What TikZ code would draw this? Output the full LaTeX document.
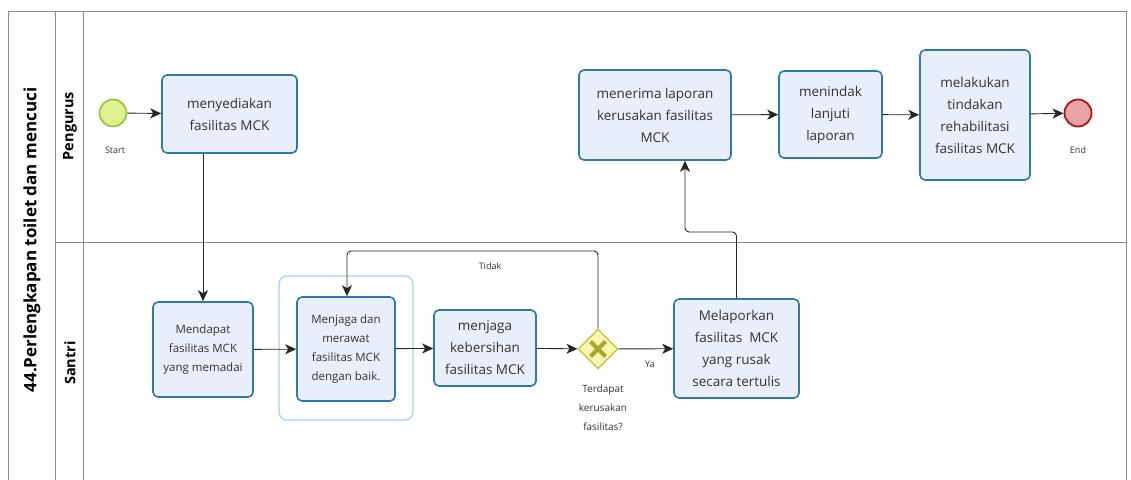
\documentclass[tikz,border=0pt]{standalone}
\usepackage{fontspec}
\setmainfont{Open Sans}
\usetikzlibrary{arrows.meta,shapes.geometric,calc}
\definecolor{boxfill}{HTML}{E9EEFB}
\definecolor{boxline}{HTML}{2B7BA6}
\definecolor{txt}{HTML}{333333}
\definecolor{startfill}{HTML}{DFF08E}
\definecolor{startline}{HTML}{8CC43E}
\definecolor{endfill}{HTML}{E9A3A5}
\definecolor{endline}{HTML}{A5161E}
\definecolor{gwfill}{HTML}{F6F6B4}
\definecolor{gwline}{HTML}{C9C63E}
\definecolor{gwmark}{HTML}{A9A62A}
\definecolor{grpline}{HTML}{A9D2E2}
\definecolor{laneline}{HTML}{8A8A8A}
\begin{document}
\begin{tikzpicture}[x=1pt,y=-1pt,
  task/.style={draw=boxline,fill=boxfill,line width=1.6pt,rounded corners=5pt,
    text=txt,font=\fontsize{13.5}{22}\selectfont,align=center,inner sep=2pt},
  flow/.style={draw=black!85,line width=0.9pt,-{Stealth[length=11pt,width=10pt,inset=3pt]}},
  small/.style={font=\fontsize{9}{11}\selectfont,text=txt},
  lane/.style={draw=laneline,line width=0.9pt}]
\useasboundingbox (0,0) rectangle (1131,479);
% pool
\draw[lane] (8,485) -- (8,11) -- (1126,11) -- (1126,485);
\draw[lane] (55,11) -- (55,485);
\draw[lane] (83,11) -- (83,485);
\draw[lane] (55,242) -- (1126,242);
\node[rotate=90,font=\bfseries\fontsize{17}{20}\selectfont] (title) at (32,240) {44.Perlengkapan toilet dan mencuci};
\node[rotate=90,font=\bfseries\fontsize{14.5}{16}\selectfont] (l1) at (70,126) {Pengurus};
\node[rotate=90,font=\bfseries\fontsize{14.5}{16}\selectfont] (l2) at (70,363) {Santri};
% group
\node[draw=grpline,line width=1.2pt,rounded corners=8pt,minimum width=134pt,minimum height=144pt] (grp) at (346,348) {};
% events
\node[circle,draw=startline,fill=startfill,line width=1.6pt,minimum size=27pt,inner sep=0] (start) at (113,113) {};
\node[small] (startl) at (115,150) {Start};
\node[circle,draw=endline,fill=endfill,line width=1.8pt,minimum size=27pt,inner sep=0] (end) at (1078,113) {};
\node[small] (endl) at (1078,150) {End};
% tasks
\node[task,minimum width=135pt,minimum height=78pt] (t1) at (229.5,114) {menyediakan\\fasilitas MCK};
\node[task,minimum width=100pt,minimum height=95pt,font=\fontsize{11.5}{19}\selectfont] (t2) at (203,349.5) {Mendapat\\fasilitas MCK\\yang memadai};
\node[task,minimum width=98pt,minimum height=104pt,font=\fontsize{11.5}{19}\selectfont] (t3) at (346,349) {Menjaga dan\\merawat\\fasilitas MCK\\dengan baik.};
\node[task,minimum width=102pt,minimum height=76pt] (t4) at (485,348) {menjaga\\kebersihan\\fasilitas MCK};
\node[diamond,draw=gwline,fill=gwfill,line width=1.4pt,minimum size=40pt,inner sep=0] (gw) at (598,349) {};
\draw[gwmark,line width=4pt] ($(gw)+(-7.5,-7.5)$) -- ($(gw)+(7.5,7.5)$) ($(gw)+(-7.5,7.5)$) -- ($(gw)+(7.5,-7.5)$);
\node[small,align=center,font=\fontsize{10}{19}\selectfont] (gwl) at (603,408) {Terdapat\\kerusakan\\fasilitas?};
\node[task,minimum width=125pt,minimum height=99pt] (t5) at (736.5,348.5) {Melaporkan\\fasilitas\ \ MCK\\yang rusak\\secara tertulis};
\node[task,minimum width=152pt,minimum height=90pt] (t6) at (655,115) {menerima laporan\\kerusakan fasilitas\\MCK};
\node[task,minimum width=103pt,minimum height=87pt] (t7) at (830.5,114.5) {menindak\\lanjuti\\laporan};
\node[task,minimum width=110pt,minimum height=130pt] (t8) at (975,115) {melakukan\\tindakan\\rehabilitasi\\fasilitas MCK};
% flows
\draw[flow] (start) -- (t1);
\draw[flow] (t1.south -| 203,0) -- (t2.north);
\draw[flow] (t2) -- (t3);
\draw[flow] (t3) -- (t4);
\draw[flow] (t4) -- (gw);
\draw[flow,rounded corners=4pt] (gw.north) -- (598,251) -- (347,251) -- (t3.north -| 347,0);
\node[small] (tidak) at (490,266) {Tidak};
\draw[flow] (gw) -- (t5);
\node[small] (ya) at (650,364) {Ya};
\draw[flow,rounded corners=4pt] (t5.north) -- (736.5,232) -- (685,232) -- (t6.south -| 685,0);
\draw[flow] (t6) -- (t7);
\draw[flow] (t7) -- (t8);
\draw[flow] (t8) -- (end);
\end{tikzpicture}
\end{document}
